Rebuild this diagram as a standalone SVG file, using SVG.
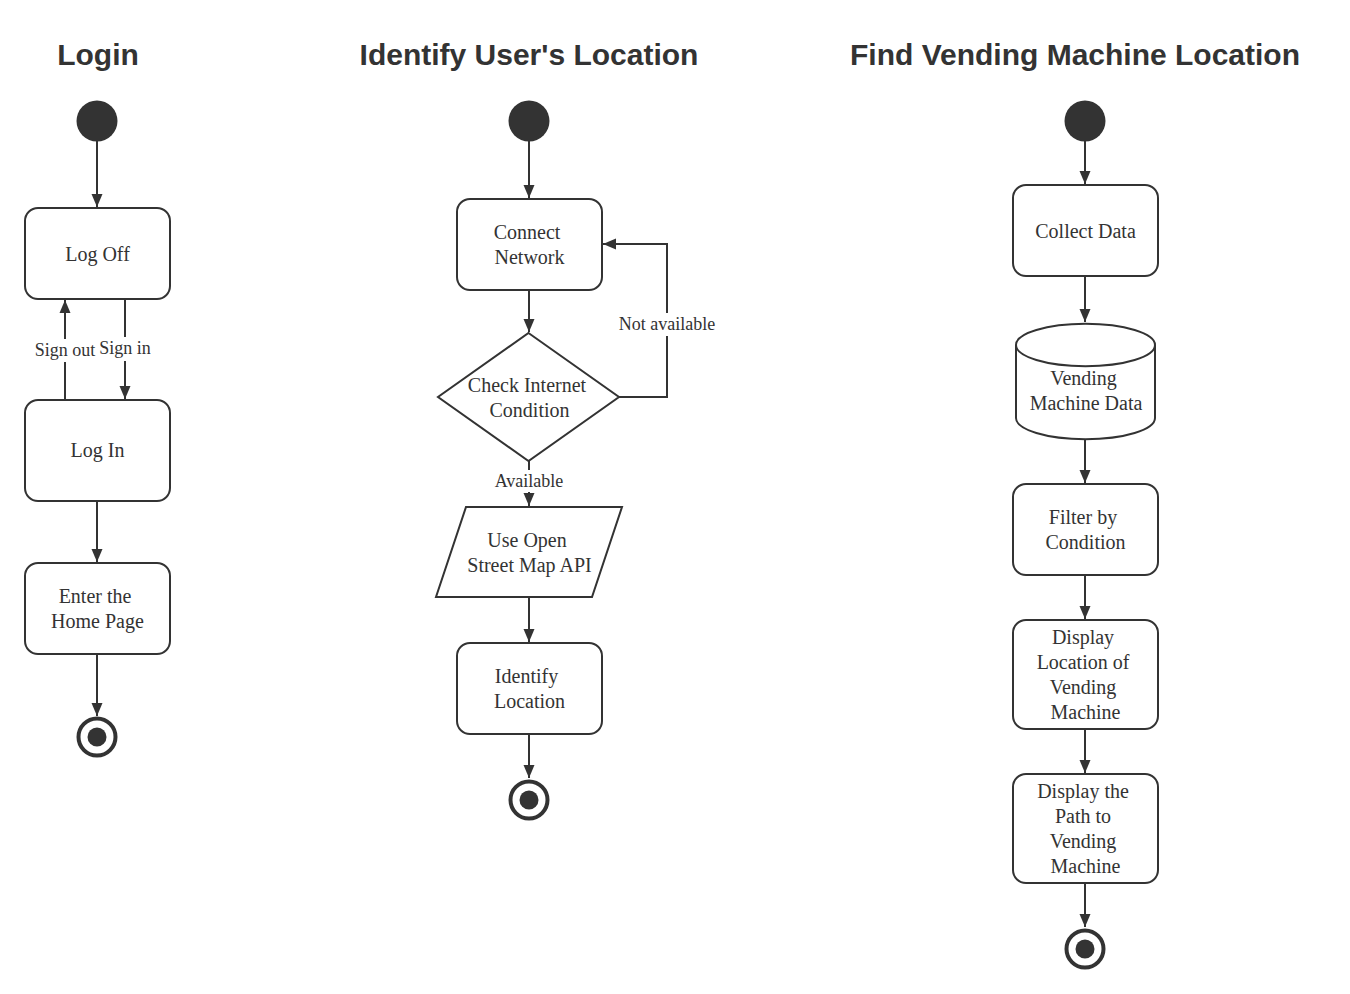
<svg xmlns="http://www.w3.org/2000/svg" width="1350" height="994" viewBox="0 0 1350 994">
<style>
.title{font-family:"Liberation Sans",Arial,sans-serif;font-weight:bold;font-size:30px;fill:#333;text-anchor:middle}
.node{fill:#fff;stroke:#333;stroke-width:2}
.t{font-family:"Liberation Serif","Times New Roman",serif;font-size:20px;fill:#333;text-anchor:middle}
.lbl{font-family:"Liberation Serif","Times New Roman",serif;font-size:18px;fill:#333;text-anchor:middle}
.edge{fill:none;stroke:#333;stroke-width:2;marker-end:url(#arr)}
.line{fill:none;stroke:#333;stroke-width:2}
.start{fill:#333}
.endo{fill:#fff;stroke:#333;stroke-width:4}
.endi{fill:#333}
</style>
<defs>
<marker id="arr" markerUnits="userSpaceOnUse" markerWidth="14" markerHeight="14" viewBox="0 0 14 14" refX="13" refY="7" orient="auto">
<path d="M0,1.5 L13,7 L0,12.5 Z" fill="#333"/>
</marker>
</defs>
<rect width="1350" height="994" fill="#fff"/>
<text class="title" x="98" y="65">Login</text>
<text class="title" x="529" y="65">Identify User's Location</text>
<text class="title" x="1075" y="65">Find Vending Machine Location</text>

<g id="connectors">
<line class="edge" x1="97" y1="141" x2="97" y2="207"/>
<path class="line" d="M65,399 V362"/>
<path class="edge" d="M65,339 V300"/>
<path class="line" d="M125,300 V337"/>
<path class="edge" d="M125,361 V399"/>
<line class="edge" x1="97" y1="501" x2="97" y2="562"/>
<line class="edge" x1="97" y1="654" x2="97" y2="716"/>

<line class="edge" x1="529" y1="141" x2="529" y2="198"/>
<line class="edge" x1="529" y1="290" x2="529" y2="332"/>
<path class="line" d="M619,397 H667 V336"/>
<path class="edge" d="M667,313 V244 H603"/>
<line class="line" x1="529" y1="461" x2="529" y2="470"/>
<line class="edge" x1="529" y1="492" x2="529" y2="506"/>
<line class="edge" x1="529" y1="597" x2="529" y2="642"/>
<line class="edge" x1="529" y1="734" x2="529" y2="778"/>

<line class="edge" x1="1085" y1="141" x2="1085" y2="184"/>
<line class="edge" x1="1085" y1="276" x2="1085" y2="322"/>
<line class="edge" x1="1085" y1="439" x2="1085" y2="483"/>
<line class="edge" x1="1085" y1="575" x2="1085" y2="619"/>
<line class="edge" x1="1085" y1="729" x2="1085" y2="773"/>
<line class="edge" x1="1085" y1="883" x2="1085" y2="927"/>

<text class="lbl" x="65" y="356">Sign out</text>
<text class="lbl" x="125" y="354">Sign in</text>
<text class="lbl" x="667" y="330">Not available</text>
<text class="lbl" x="529" y="487">Available</text>
</g>

<g id="login-start"><circle class="start" cx="97" cy="121" r="20.5"/></g>
<g id="log-off"><rect class="node" x="25" y="208" width="145" height="91" rx="13"/><text class="t" x="97.5" y="261">Log Off</text></g>
<g id="log-in"><rect class="node" x="25" y="400" width="145" height="101" rx="13"/><text class="t" x="97.5" y="457">Log In</text></g>
<g id="enter-home"><rect class="node" x="25" y="563" width="145" height="91" rx="13"/><text class="t" x="95" y="603">Enter the</text><text class="t" x="97.5" y="628">Home Page</text></g>
<g id="login-end"><circle class="endo" cx="97" cy="737" r="18.5"/><circle class="endi" cx="97" cy="737" r="9.5"/></g>

<g id="loc-start"><circle class="start" cx="529" cy="121" r="20.5"/></g>
<g id="connect-network"><rect class="node" x="457" y="199" width="145" height="91" rx="13"/><text class="t" x="527" y="239">Connect</text><text class="t" x="529.5" y="264">Network</text></g>
<g id="check-internet"><polygon class="node" points="528.5,333 619,397 528.5,461 438,397"/><text class="t" x="527" y="392">Check Internet</text><text class="t" x="529.5" y="417">Condition</text></g>
<g id="use-osm"><polygon class="node" points="466,507 622,507 592,597 436,597"/><text class="t" x="527" y="547">Use Open</text><text class="t" x="529.5" y="572">Street Map API</text></g>
<g id="identify-location"><rect class="node" x="457" y="643" width="145" height="91" rx="13"/><text class="t" x="526.5" y="683">Identify</text><text class="t" x="529.5" y="708">Location</text></g>
<g id="loc-end"><circle class="endo" cx="529" cy="800" r="18.5"/><circle class="endi" cx="529" cy="800" r="9.5"/></g>

<g id="vm-start"><circle class="start" cx="1085" cy="121" r="20.5"/></g>
<g id="collect-data"><rect class="node" x="1013" y="185" width="145" height="91" rx="13"/><text class="t" x="1085.5" y="238">Collect Data</text></g>
<g id="vm-data"><path class="node" d="M1016,345 A69,21 0 0 1 1155,345 V418 A69,21 0 0 1 1016,418 Z"/><path class="line" d="M1016,345 A69,21 0 0 0 1155,345"/><text class="t" x="1083.5" y="385">Vending</text><text class="t" x="1086" y="410">Machine Data</text></g>
<g id="filter-condition"><rect class="node" x="1013" y="484" width="145" height="91" rx="13"/><text class="t" x="1083" y="524">Filter by</text><text class="t" x="1085.5" y="549">Condition</text></g>
<g id="display-location"><rect class="node" x="1013" y="620" width="145" height="109" rx="13"/><text class="t" x="1083" y="644">Display</text><text class="t" x="1083" y="669">Location of</text><text class="t" x="1083" y="694">Vending</text><text class="t" x="1085.5" y="719">Machine</text></g>
<g id="display-path"><rect class="node" x="1013" y="774" width="145" height="109" rx="13"/><text class="t" x="1083" y="798">Display the</text><text class="t" x="1083" y="823">Path to</text><text class="t" x="1083" y="848">Vending</text><text class="t" x="1085.5" y="873">Machine</text></g>
<g id="vm-end"><circle class="endo" cx="1085" cy="949" r="18.5"/><circle class="endi" cx="1085" cy="949" r="9.5"/></g>
</svg>
